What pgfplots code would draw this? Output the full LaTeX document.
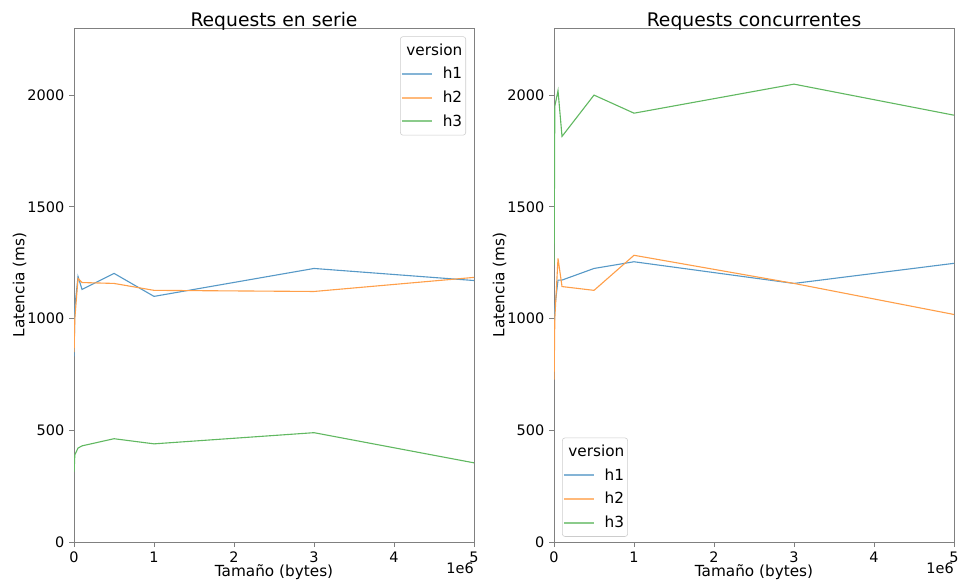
\documentclass[border=0pt]{standalone}
\usepackage{fontspec}
\setmainfont{DejaVu Sans}
\usepackage{pgfplots}
\pgfplotsset{compat=1.18}
\definecolor{c0}{HTML}{1F77B4}
\definecolor{c1}{HTML}{FF7F0E}
\definecolor{c2}{HTML}{2CA02C}
\colorlet{p0}{c0!75!white}
\colorlet{p1}{c1!75!white}
\colorlet{p2}{c2!75!white}
\colorlet{l0}{c0!55!white}
\colorlet{l1}{c1!55!white}
\colorlet{l2}{c2!55!white}
\definecolor{spine}{gray}{0.5}
\pgfplotsset{
  myax/.style={
    scale only axis, width=288pt, height=370pt,
    xmin=0, xmax=5000000, ymin=0, ymax=2300,
    clip mode=individual,
    xtick={0,1000000,2000000,3000000,4000000,5000000},
    xticklabels={0,1,2,3,4,5},
    scaled x ticks=false,
    ytick={0,500,1000,1500,2000},
    /pgf/number format/1000 sep={},
    /pgf/number format/assume math mode=true,
    tick align=outside, tick pos=left,
    major tick length=3.5pt,
    every tick/.style={spine, line width=0.6pt},
    axis line style={spine, line width=0.6pt},
    ticklabel style={font=\fontsize{10.4}{12}\selectfont, text=black},
    label style={font=\fontsize{11}{13}\selectfont},
    title style={font=\fontsize{13.5}{16}\selectfont, yshift=-11pt},
    xlabel={Tamaño (bytes)},
    ylabel={Latencia (ms)},
    xlabel style={yshift=5.5pt},
    ylabel style={yshift=-6pt},
    every axis plot/.append style={line width=0.8pt, mark=none},
    legend image code/.code={\draw[##1] (0pt,0pt) -- (21.6pt,0pt);},
    legend style={font=\fontsize{11}{13}\selectfont, draw=black!20, rounded corners=2pt,
      fill=white, inner xsep=0.4pt, inner ysep=3pt,
      row sep=3.2pt,
      /tikz/every odd column/.append style={column sep=5pt}},
  }
}
\begin{document}
\begin{tikzpicture}
\path[use as bounding box] (0,0) rectangle (690.5pt,418.3pt);
\begin{axis}[myax, at={(53.3pt,28.1pt)}, anchor=south west,
  title={Requests en serie},
  legend style={at={(0.98,0.984)}, anchor=north east}]
\addlegendimage{empty legend}\addlegendentry{\hspace*{-26pt}version}
\addlegendimage{l0, line width=1.4pt}\addlegendentry{h1}
\addlegendimage{l1, line width=1.4pt}\addlegendentry{h2}
\addlegendimage{l2, line width=1.4pt}\addlegendentry{h3}
\addplot[p0, forget plot] coordinates {(1000,830) (10000,1050) (50000,1188) (100000,1130) (500000,1202) (1000000,1099) (3000000,1224) (5000000,1170)};
\addplot[p1, forget plot] coordinates {(1000,850) (10000,1000) (50000,1179) (100000,1161) (500000,1157) (1000000,1126) (3000000,1121) (5000000,1184)};
\addplot[p2, forget plot] coordinates {(1000,314) (10000,390) (50000,420) (100000,430) (500000,462) (1000000,439) (3000000,489) (5000000,354)};
\node[anchor=north east, font=\fontsize{10.4}{12}\selectfont, inner sep=0pt] at ([yshift=-15pt]rel axis cs:1,0) {1e6};
\end{axis}
\begin{axis}[myax, at={(398.9pt,28.1pt)}, anchor=south west,
  title={Requests concurrentes},
  legend style={at={(0.02,0.01)}, anchor=south west}]
\addlegendimage{empty legend}\addlegendentry{\hspace*{-26pt}version}
\addlegendimage{l0, line width=1.4pt}\addlegendentry{h1}
\addlegendimage{l1, line width=1.4pt}\addlegendentry{h2}
\addlegendimage{l2, line width=1.4pt}\addlegendentry{h3}
\addplot[p0, forget plot] coordinates {(1000,937) (10000,1050) (50000,1172) (100000,1172) (500000,1224) (1000000,1254) (3000000,1157) (5000000,1247)};
\addplot[p1, forget plot] coordinates {(1000,726) (10000,1000) (50000,1269) (100000,1143) (500000,1126) (1000000,1283) (3000000,1157) (5000000,1018)};
\addplot[p2, forget plot] coordinates {(1000,1240) (10000,1950) (50000,2020) (100000,1815) (500000,2000) (1000000,1919) (3000000,2049) (5000000,1910)};
\node[anchor=north east, font=\fontsize{10.4}{12}\selectfont, inner sep=0pt] at ([yshift=-15pt]rel axis cs:1,0) {1e6};
\end{axis}
\end{tikzpicture}
\end{document}
